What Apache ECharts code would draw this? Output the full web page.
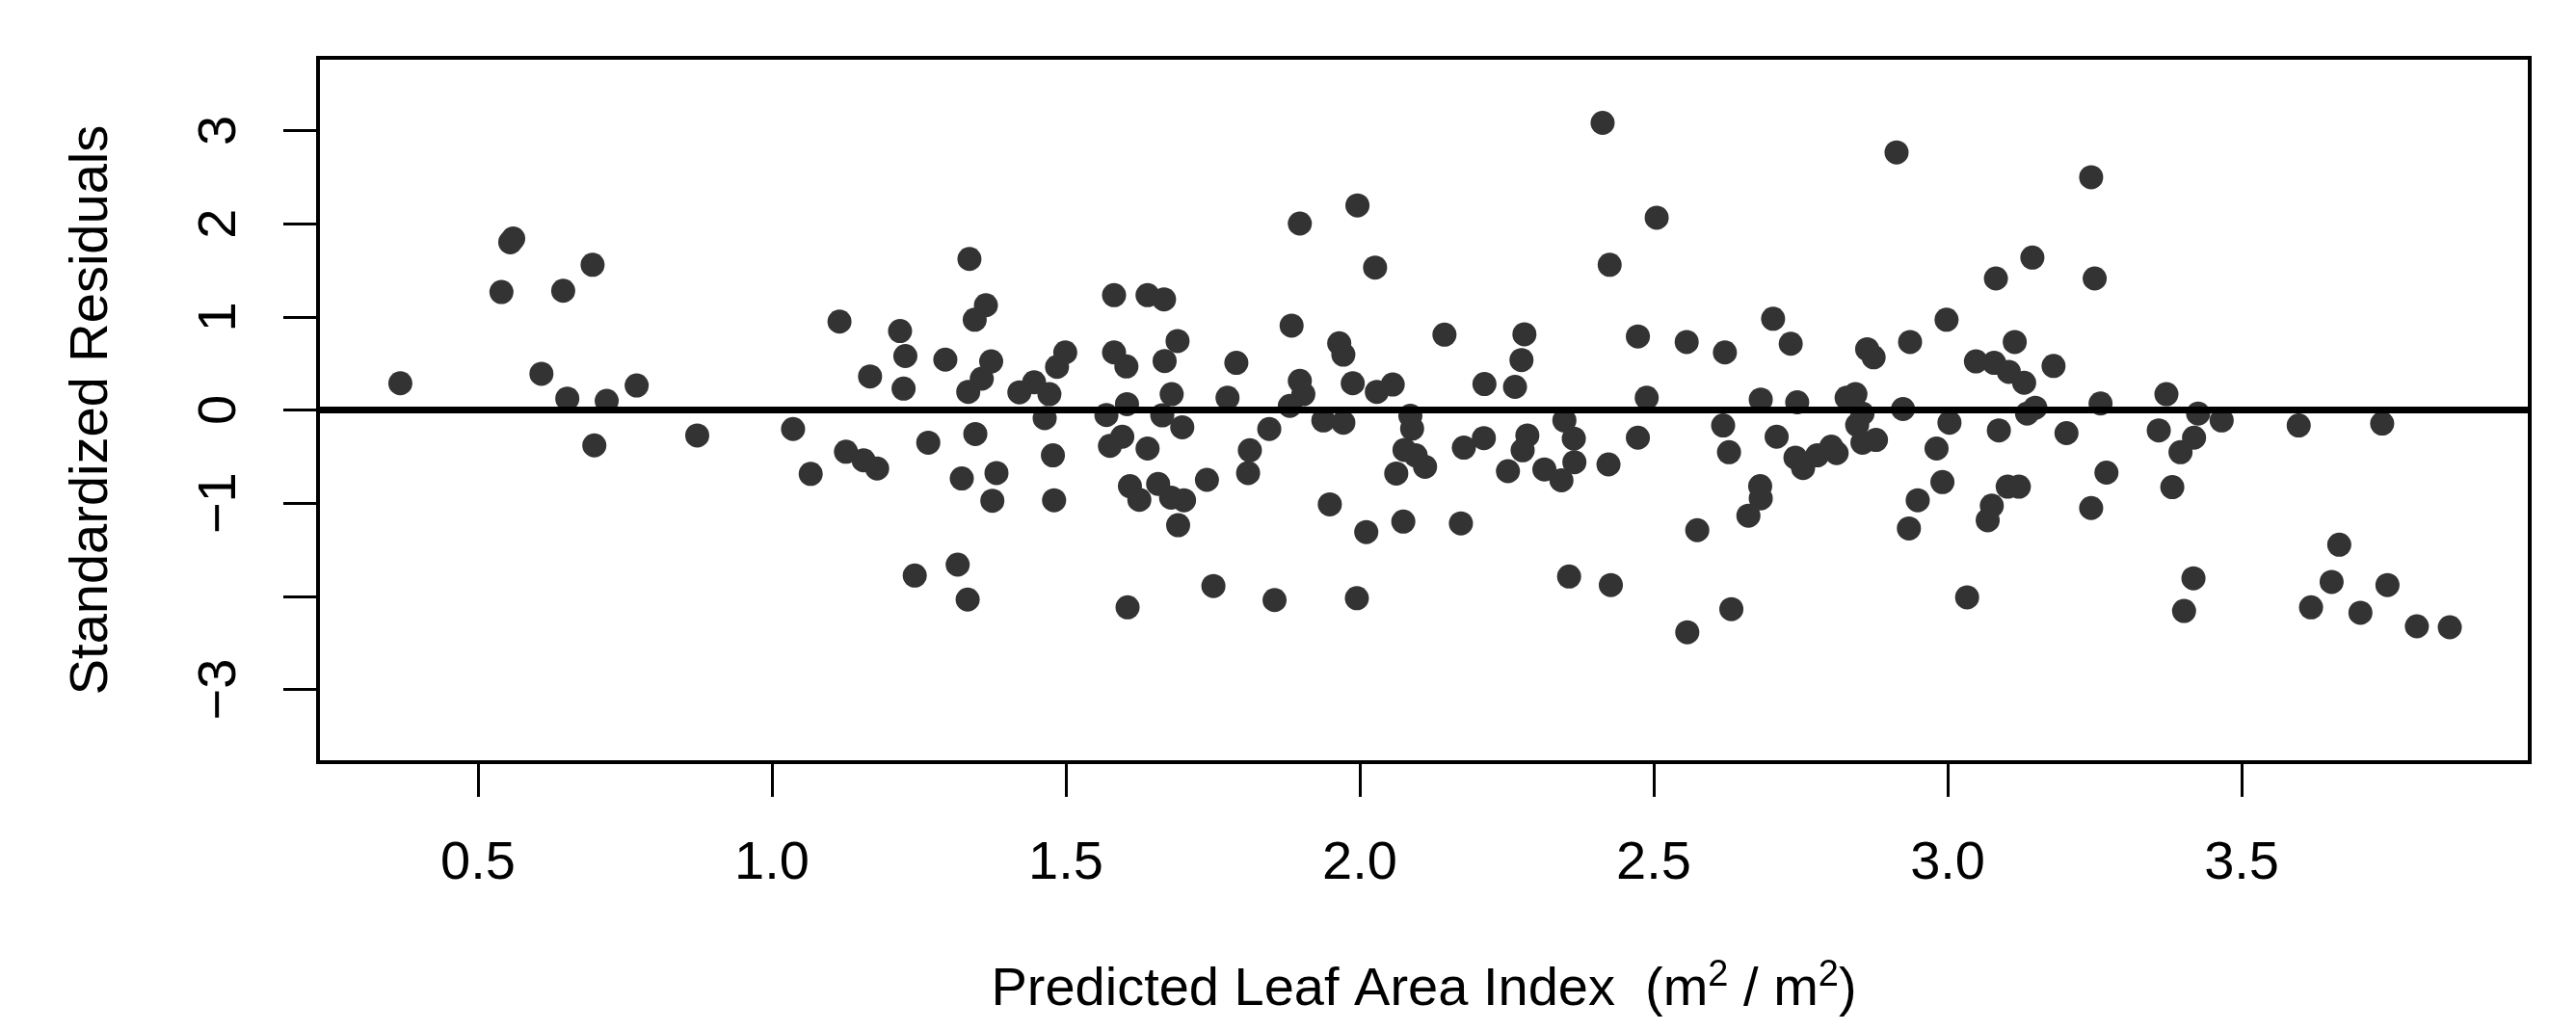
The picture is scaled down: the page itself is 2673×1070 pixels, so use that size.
<!DOCTYPE html>
<html>
<head>
<meta charset="utf-8">
<script src="https://cdn.jsdelivr.net/npm/echarts@6/dist/echarts.min.js"></script>
<style>
html,body{margin:0;padding:0;background:#ffffff;}
#chart{width:2673px;height:1070px;}
</style>
</head>
<body>
<div id="chart"></div>
<script>
// Predicted Leaf Area Index (x) and standardized residuals (y)
const predicted = [
  0.368,0.555,0.560,0.540,0.695,0.645,0.608,0.652,0.719,0.770,0.698,0.873,
  1.336,1.364,1.345,1.115,1.218,1.227,1.295,1.167,1.224,1.373,1.357,1.334,1.421,1.446,1.472,1.499,1.485,
  1.582,1.639,1.667,1.582,1.603,1.690,1.668,1.680,1.604,1.569,1.664,1.698,
  1.036,1.066,1.126,1.156,1.179,1.266,1.346,1.323,1.382,1.375,1.464,1.478,1.480,
  1.575,1.596,1.639,1.609,1.625,1.657,1.679,1.701,1.691,1.740,1.243,1.316,1.333,1.605,1.751,
  2.413,1.898,1.996,2.026,2.425,2.505,1.884,1.790,1.775,1.965,1.972,1.898,1.904,1.881,1.988,2.029,2.056,
  2.144,2.212,2.264,2.275,2.280,2.473,2.488,1.846,1.813,1.810,1.938,1.972,2.086,2.089,2.076,2.095,2.062,
  2.111,2.177,2.211,2.285,2.277,2.252,2.314,2.348,2.364,2.365,2.343,2.423,2.473,1.949,2.011,2.074,2.172,
  1.855,1.995,2.356,2.427,
  2.913,3.244,3.144,3.082,3.250,2.556,2.621,2.703,2.733,2.863,2.874,2.936,2.998,3.048,3.079,3.104,3.130,
  3.114,3.180,2.682,2.744,2.828,2.843,2.924,3.149,3.135,3.260,2.618,2.628,2.709,2.741,2.754,2.778,2.802,
  2.811,2.846,2.855,2.855,2.878,3.003,2.981,2.991,3.087,3.202,2.949,2.934,3.102,3.121,3.075,3.068,3.244,
  3.270,2.681,2.682,2.661,2.574,2.632,2.557,3.033,
  3.372,3.426,3.466,3.359,3.419,3.396,3.382,3.597,3.739,3.418,3.402,3.666,3.653,3.618,3.702,3.748,3.798,3.854
];
const residuals = [
  0.287,1.800,1.840,1.266,1.558,1.280,0.389,0.122,0.097,0.263,-0.380,-0.273,
  1.621,1.125,0.969,0.949,0.847,0.579,0.540,0.360,0.229,0.521,0.336,0.195,0.190,0.297,0.170,0.618,0.463,
  1.232,1.232,1.188,0.618,0.467,0.740,0.526,0.170,0.063,-0.054,-0.058,-0.185,
  -0.204,-0.686,-0.448,-0.540,-0.628,-0.351,-0.258,-0.735,-0.677,-0.974,-0.088,-0.487,-0.969,
  -0.385,-0.287,-0.414,-0.818,-0.964,-0.794,-0.940,-0.969,-1.237,-0.750,-1.777,-1.660,-2.035,-2.118,-1.889,
  3.082,2.001,2.196,1.529,1.558,2.064,0.906,0.506,0.131,0.716,0.594,0.312,0.170,0.044,0.287,0.195,0.273,
  0.808,0.278,0.248,0.536,0.813,0.789,0.131,-0.204,-0.433,-0.677,-0.112,-0.136,-0.063,-0.200,-0.428,-0.487,-0.682,
  -0.609,-0.404,-0.302,-0.273,-0.433,-0.657,-0.638,-0.112,-0.307,-0.560,-0.755,-0.584,-0.297,-1.013,-1.310,-1.198,-1.217,
  -2.040,-2.020,-1.787,-1.879,
  2.765,2.498,1.636,1.412,1.412,0.730,0.618,0.979,0.711,0.652,0.565,0.730,0.969,0.521,0.506,0.409,0.292,
  0.730,0.472,0.112,0.083,0.131,0.170,0.010,0.024,-0.039,0.070,-0.166,-0.453,-0.287,-0.511,-0.623,-0.487,-0.394,
  -0.463,-0.161,-0.039,-0.351,-0.321,-0.136,-0.414,-0.774,-0.219,-0.248,-0.969,-1.271,-0.823,-0.823,-1.027,-1.183,-1.052,
  -0.672,-0.818,-0.949,-1.134,-1.290,-2.137,-2.386,-2.011,
  0.170,-0.039,-0.112,-0.219,-0.297,-0.453,-0.828,-0.166,-0.146,-1.806,-2.157,-1.446,-1.845,-2.118,-2.176,-1.879,-2.322,-2.332
];
const xTicks = [0.5, 1.0, 1.5, 2.0, 2.5, 3.0, 3.5];
const yTicks = [-3, -2, -1, 0, 1, 2, 3];
const yTickLabels = [-3, -1, 0, 1, 2, 3];
const xRange = [0.228, 3.990];
const yRange = [-3.78, 3.78];
const xTitle = 'Predicted Leaf Area Index  (m{s|2} / m{s|2})';
const yTitle = 'Standardized Residuals';

const points = predicted.map((x, i) => [x, residuals[i]]);
const FONT = "'Liberation Sans', Arial, Helvetica, sans-serif";

const chart = echarts.init(document.getElementById('chart'), null, {renderer: 'canvas'});
chart.setOption({
  animation: false,
  backgroundColor: '#ffffff',
  grid: {
    left: 330, right: 48, top: 60, bottom: 279,
    show: true, borderColor: '#000000', borderWidth: 4, backgroundColor: 'transparent'
  },
  xAxis: {
    type: 'value',
    position: 'bottom',
    min: xRange[0], max: xRange[1],
    axisLine: {show: true, onZero: false, lineStyle: {color: '#000000', width: 4}},
    splitLine: {show: false},
    axisTick: {show: true, inside: false, length: 36, customValues: xTicks,
      lineStyle: {color: '#000000', width: 3}},
    axisLabel: {show: true, customValues: xTicks, margin: 78,
      formatter: v => v.toFixed(1),
      color: '#000000', fontSize: 56, fontFamily: FONT},
    name: xTitle,
    nameLocation: 'middle',
    nameGap: 203,
    nameTextStyle: {
      color: '#000000', fontSize: 56, fontFamily: FONT,
      rich: {
        s: {fontSize: 38, fontFamily: FONT, color: '#000000', verticalAlign: 'top', padding: [0, 0, 30, 0]}
      }
    }
  },
  yAxis: {
    type: 'value',
    position: 'left',
    min: yRange[0], max: yRange[1],
    axisLine: {show: true, onZero: false, lineStyle: {color: '#000000', width: 4}},
    splitLine: {show: false},
    axisTick: {show: true, inside: false, length: 36, customValues: yTicks,
      lineStyle: {color: '#000000', width: 3}},
    axisLabel: {show: true, customValues: yTickLabels, margin: 73, rotate: 90,
      formatter: v => String(v).replace('-', '\u2212'),
      color: '#000000', fontSize: 56, fontFamily: FONT},
    name: yTitle,
    nameLocation: 'middle',
    nameGap: 206,
    nameRotate: 90,
    nameTextStyle: {color: '#000000', fontSize: 56, fontFamily: FONT}
  },
  series: [{
    type: 'scatter',
    data: points,
    symbol: 'circle',
    symbolSize: 25,
    itemStyle: {color: '#333333', opacity: 1},
    emphasis: {disabled: true},
    markLine: {
      silent: true,
      symbol: ['none', 'none'],
      label: {show: false},
      lineStyle: {color: '#000000', width: 7, type: 'solid'},
      data: [{yAxis: 0}]
    }
  }]
});
</script>
</body>
</html>
